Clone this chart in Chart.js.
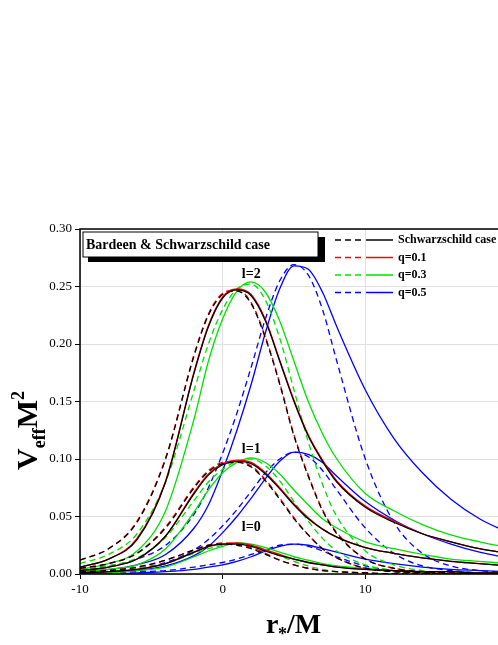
<!DOCTYPE html>
<html><head><meta charset="utf-8">
<script src="https://cdn.jsdelivr.net/npm/chart.js@4"></script>
<style>html,body{margin:0;padding:0;overflow:hidden;background:#fff}canvas{display:block}</style>
</head><body><canvas id="c" width="530" height="645"></canvas>
<script>
const xs=[-10,-8,-6,-4,-2,-1,0,1,2,3,4,5,6,7,8,10,12,14,16,18,20];
const xTicks=[-10,0,10,20];
const yTicks=[0,0.05,0.10,0.15,0.20,0.25,0.30];
// l=2
const bS2=[0.006,0.013,0.03,0.08,0.175,0.215,0.24,0.247,0.242,0.22,0.185,0.15,0.12,0.098,0.08,0.058,0.045,0.035,0.028,0.022,0.018];
const bD2=[0.012,0.022,0.045,0.1,0.19,0.225,0.243,0.246,0.235,0.205,0.165,0.12,0.085,0.055,0.035,0.013,0.005,0.002,0.001,0,0];
const rS2=[0.006,0.013,0.031,0.081,0.176,0.216,0.241,0.248,0.243,0.221,0.186,0.151,0.121,0.099,0.081,0.059,0.046,0.035,0.028,0.022,0.018];
const rD2=[0.012,0.022,0.046,0.101,0.191,0.226,0.244,0.247,0.236,0.206,0.166,0.121,0.086,0.056,0.036,0.013,0.005,0.002,0.001,0,0];
const gS2=[0.004,0.009,0.02,0.055,0.135,0.185,0.222,0.246,0.254,0.245,0.22,0.185,0.15,0.122,0.1,0.07,0.055,0.043,0.034,0.028,0.023];
const gD2=[0.009,0.017,0.035,0.08,0.16,0.2,0.23,0.248,0.252,0.238,0.205,0.16,0.115,0.078,0.05,0.02,0.008,0.003,0.001,0,0];
const uS2=[0.002,0.004,0.008,0.017,0.04,0.06,0.09,0.125,0.165,0.21,0.248,0.268,0.265,0.245,0.215,0.16,0.118,0.088,0.065,0.048,0.036];
const uD2=[0.004,0.007,0.013,0.025,0.052,0.075,0.105,0.14,0.18,0.222,0.255,0.269,0.26,0.23,0.185,0.1,0.045,0.018,0.007,0.003,0.001];
// l=1
const bS1=[0.003,0.006,0.013,0.033,0.07,0.086,0.095,0.098,0.096,0.087,0.074,0.06,0.048,0.039,0.032,0.023,0.018,0.014,0.011,0.009,0.007];
const bD1=[0.005,0.009,0.018,0.04,0.075,0.089,0.096,0.097,0.093,0.081,0.065,0.048,0.034,0.022,0.014,0.005,0.002,0.001,0,0,0];
const rS1=[0.003,0.006,0.013,0.033,0.071,0.087,0.096,0.099,0.097,0.088,0.075,0.061,0.049,0.039,0.032,0.023,0.018,0.014,0.011,0.009,0.007];
const rD1=[0.005,0.009,0.018,0.041,0.076,0.09,0.097,0.098,0.094,0.082,0.066,0.049,0.034,0.022,0.014,0.005,0.002,0.001,0,0,0];
const gS1=[0.002,0.004,0.008,0.022,0.054,0.073,0.088,0.097,0.101,0.097,0.087,0.073,0.06,0.048,0.04,0.028,0.022,0.017,0.013,0.011,0.009];
const gD1=[0.004,0.007,0.014,0.032,0.064,0.08,0.091,0.098,0.1,0.094,0.081,0.063,0.046,0.031,0.02,0.008,0.003,0.001,0,0,0];
const uS1=[0.001,0.002,0.003,0.007,0.016,0.024,0.036,0.05,0.066,0.083,0.098,0.106,0.104,0.097,0.085,0.063,0.047,0.035,0.026,0.019,0.014];
const uD1=[0.002,0.003,0.005,0.01,0.021,0.03,0.042,0.056,0.072,0.088,0.1,0.106,0.102,0.09,0.073,0.04,0.018,0.007,0.003,0.001,0];
// l=0
const bS0=[0.001,0.002,0.004,0.009,0.019,0.024,0.026,0.026,0.024,0.02,0.016,0.013,0.01,0.008,0.006,0.004,0.003,0.002,0.002,0.001,0.001];
const bD0=[0.002,0.003,0.006,0.012,0.021,0.025,0.026,0.025,0.022,0.017,0.012,0.008,0.005,0.003,0.002,0.001,0,0,0,0,0];
const rS0=[0.001,0.002,0.004,0.009,0.019,0.024,0.026,0.027,0.025,0.021,0.017,0.013,0.01,0.008,0.006,0.004,0.003,0.002,0.002,0.001,0.001];
const rD0=[0.002,0.003,0.006,0.012,0.021,0.025,0.027,0.026,0.023,0.018,0.012,0.008,0.005,0.003,0.002,0.001,0,0,0,0,0];
const gS0=[0.001,0.001,0.003,0.006,0.015,0.02,0.024,0.027,0.026,0.023,0.019,0.015,0.012,0.009,0.007,0.005,0.003,0.002,0.002,0.001,0.001];
const gD0=[0.002,0.003,0.005,0.009,0.018,0.022,0.025,0.027,0.025,0.021,0.016,0.011,0.007,0.004,0.002,0.001,0,0,0,0,0];
const uS0=[0,0,0.001,0.002,0.004,0.006,0.008,0.011,0.015,0.02,0.024,0.026,0.025,0.022,0.019,0.013,0.009,0.006,0.004,0.003,0.002];
const uD0=[0.001,0.001,0.002,0.003,0.006,0.008,0.01,0.013,0.017,0.021,0.025,0.026,0.024,0.02,0.015,0.007,0.003,0.001,0,0,0];
const legendNames=['Schwarzschild case','q=0.1','q=0.3','q=0.5'];
const colors=['#000000','#ff0000','#00e000','#0000ff'];
const groups=[[bS2,bD2,bS1,bD1,bS0,bD0],[rS2,rD2,rS1,rD1,rS0,rD0],[gS2,gD2,gS1,gD1,gS0,gD0],[uS2,uD2,uS1,uD1,uS0,uD0]];
const datasets=[];
groups.forEach((g,i)=>g.forEach((arr,j)=>{
  datasets.push({data:arr.map((v,k)=>({x:xs[k],y:v})),borderColor:colors[i],borderWidth:1.3,
    borderDash:j%2?[6,4]:[],pointRadius:0,cubicInterpolationMode:'monotone',fill:false});
}));
const deco={id:'deco',afterDraw(ch){
  const c=ch.ctx,a=ch.chartArea,sx=ch.scales.x,sy=ch.scales.y;
  c.save();
  c.strokeStyle='#000';c.lineWidth=1.5;c.strokeRect(a.left,a.top,a.right-a.left,a.bottom-a.top);
  c.fillStyle='#000';c.font='bold 14px "Liberation Serif"';c.textAlign='center';
  c.fillText('l=2',sx.getPixelForValue(2),sy.getPixelForValue(0.257));
  c.fillText('l=1',sx.getPixelForValue(2),sy.getPixelForValue(0.105));
  c.fillText('l=0',sx.getPixelForValue(2),sy.getPixelForValue(0.037));
  // box
  c.fillStyle='#000';c.fillRect(88,237,237,25);
  c.fillStyle='#fff';c.fillRect(83,232,235,25);
  c.strokeStyle='#000';c.lineWidth=1;c.strokeRect(83,232,235,25);
  c.fillStyle='#000';c.font='bold 14px "Liberation Serif"';c.textAlign='left';c.textBaseline='middle';
  c.fillText('Bardeen & Schwarzschild case',86,245);
  // legend
  legendNames.forEach((n,i)=>{
    const y=240+i*17.5;c.strokeStyle=colors[i];c.lineWidth=1.5;
    c.setLineDash([6,4]);c.beginPath();c.moveTo(335,y);c.lineTo(365,y);c.stroke();
    c.setLineDash([]);c.beginPath();c.moveTo(366,y);c.lineTo(393,y);c.stroke();
    c.fillStyle='#000';c.font='bold 12px "Liberation Serif"';c.fillText(n,398,y);
  });
  // axis titles
  c.textBaseline='alphabetic';
  c.save();c.translate(37,400);c.rotate(-Math.PI/2);
  c.font='bold 30px "Liberation Serif"';c.textAlign='left';
  const w1=c.measureText('V').width;
  c.fillText('V',-70,0);
  c.font='bold 18px "Liberation Serif"';c.fillText('eff',-70+w1,8);
  const w2=c.measureText('eff').width;
  c.font='bold 30px "Liberation Serif"';c.fillText('M',-70+w1+w2,0);
  const w3=c.measureText('M').width;
  c.font='bold 18px "Liberation Serif"';c.fillText('2',-70+w1+w2+w3,-13);
  c.restore();
  c.font='bold 28px "Liberation Serif"';c.textAlign='left';
  c.fillText('r',266,633);c.font='bold 18px "Liberation Serif"';c.fillText('*',278,640);
  c.font='bold 28px "Liberation Serif"';c.fillText('/M',287,633);
  c.restore();
}};
new Chart(document.getElementById('c'),{type:'line',data:{datasets},
 options:{responsive:false,animation:false,layout:{padding:{top:229,right:22,left:0,bottom:0}},
  plugins:{legend:{display:false},tooltip:{enabled:false}},
  scales:{
   x:{type:'linear',min:-10,max:20,afterBuildTicks:s=>{s.ticks=xTicks.map(v=>({value:v}));},
     afterFit:s=>{s.height=71;},
     grid:{color:'#e0e0e0',tickColor:'#000',tickLength:5},
     ticks:{color:'#000',font:{family:'Liberation Serif',size:13},maxRotation:0}},
   y:{min:0,max:0.3,afterBuildTicks:s=>{s.ticks=yTicks.map(v=>({value:v}));},
     afterFit:s=>{s.width=80;},
     grid:{color:'#e0e0e0',tickColor:'#000',tickLength:5},
     ticks:{color:'#000',font:{family:'Liberation Serif',size:13},callback:v=>v.toFixed(2)}}
  }},plugins:[deco]});
</script></body></html>
